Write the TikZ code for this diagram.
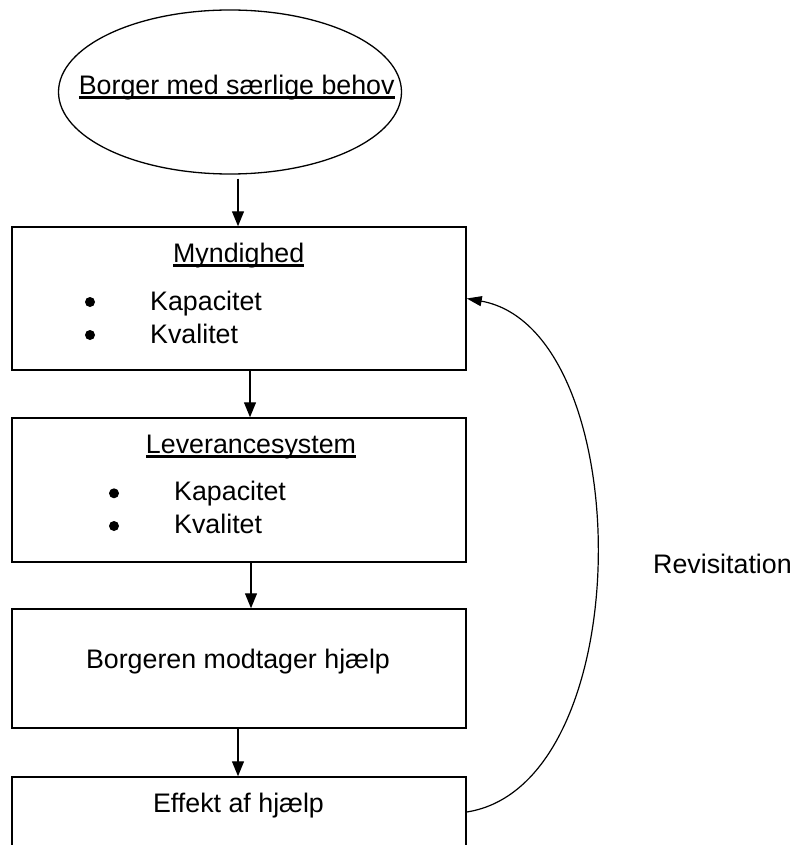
\documentclass[tikz,border=0pt]{standalone}
\usepackage{fontspec}
\setmainfont{Liberation Sans}
\usetikzlibrary{arrows.meta,shapes.geometric}
\newsavebox\ulsave
\newcommand{\ulbox}[1]{\sbox\ulsave{#1}\rlap{\rule[-4.5pt]{\wd\ulsave}{2.4pt}}\usebox\ulsave}

\begin{document}
\begin{tikzpicture}[x=1pt, y=-1pt,
		txt/.style={font=\fontsize{26.8}{32}\selectfont, inner sep=0pt, anchor=base},
		item/.style={txt, anchor=base west},
		dot/.style={circle, fill=black, minimum size=10pt, inner sep=0pt},
		box/.style={draw, line width=1.5pt, minimum width=454pt, inner sep=0pt},
		arr/.style={line width=1.3pt, -{Triangle[length=15pt, width=12pt]}}]
			%%%%% START %%%%%
			
			\useasboundingbox (0,0) rectangle (795,845);
			\clip (0,0) rectangle (795,845);
			
			\node[draw, ellipse, line width=1.3pt, minimum width=343pt, minimum height=164pt, inner sep=0pt] (borger) at (230,92) {};
			\node[txt] (borgerT) at (236.7,94.3) {\ulbox{Borger med særlige behov}};
			
			\node[box, minimum height=143pt] (myn) at (239,298.5) {};
			\node[txt] (mynT) at (238.7,262) {\ulbox{Myndighed}};
			\node[dot] (mynB1) at (90,302) {};
			\node[dot] (mynB2) at (90,335) {};
			\node[item] (mynK1) at (150,310) {Kapacitet};
			\node[item] (mynK2) at (150,343) {Kvalitet};
			
			\node[box, minimum height=144pt] (lev) at (239,490) {};
			\node[txt] (levT) at (251,453) {\ulbox{Leverancesystem}};
			\node[dot] (levB1) at (114,493.3) {};
			\node[dot] (levB2) at (114,526) {};
			\node[item] (levK1) at (174,500.5) {Kapacitet};
			\node[item] (levK2) at (174,533) {Kvalitet};
			
			\node[box, minimum height=119pt] (modt) at (239,668.5) {};
			\node[txt] (modtT) at (238,668) {Borgeren modtager hjælp};
			
			\node[box, minimum height=70pt] (eff) at (239,812) {};
			\node[txt] (effT) at (238.5,812) {Effekt af hjælp};
			
			\node[item] (rev) at (653,573) {Revisitation};
			
			\draw[arr, shorten <=4pt] ([xshift=8pt]borger.south) -- ([xshift=-1pt]myn.north);
			\draw[arr] ([xshift=11pt]myn.south) -- ([xshift=11pt]lev.north);
			\draw[arr] ([xshift=12pt]lev.south) -- ([xshift=12pt]modt.north);
			\draw[arr] ([xshift=-1pt]modt.south) -- ([xshift=-1pt]eff.north);
			
			\draw[line width=1.2pt, -{Triangle[length=15pt, width=10pt]}] (eff.east) .. controls +(174,-27) and +(172,31) .. (myn.east);
			
			%%%%% END %%%%%
		\end{tikzpicture}
\end{document}
